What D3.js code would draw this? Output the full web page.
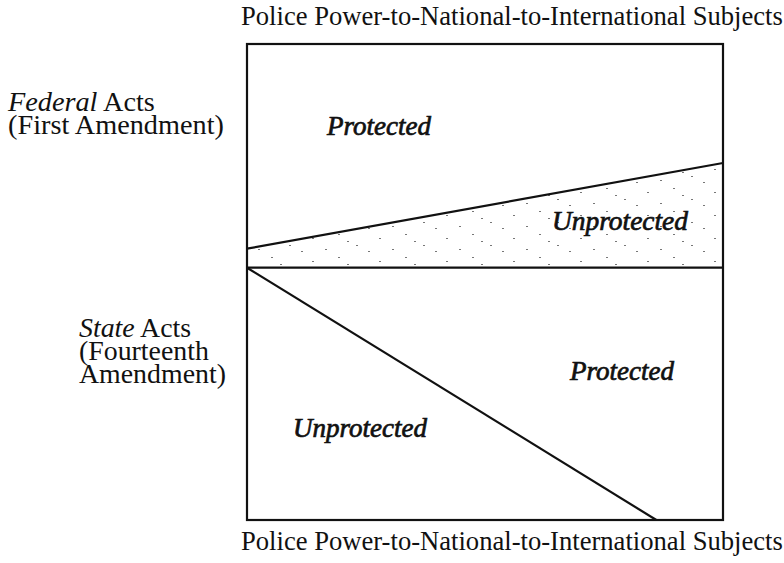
<!DOCTYPE html>
<html>
<head>
<meta charset="utf-8">
<script src="https://cdn.jsdelivr.net/npm/d3@7"></script>
<style>
  html, body { margin: 0; padding: 0; background: #fff; }
  svg text { font-family: 'Liberation Serif', 'Times New Roman', serif; fill: #111; }
</style>
</head>
<body>
<div id="chart"></div>
<script>
// axis captions
const axisTitle = 'Police Power-to-National-to-International Subjects';

// row captions (each line: [italic part, plain part])
const federalCaption = [['Federal', ' Acts'], ['', '(First Amendment)']];
const stateCaption = [['State', ' Acts'], ['', '(Fourteenth'], ['', 'Amendment)']];

// boundary lines, x: subject (0 = police power, 100 = international), y: 0 bottom .. 100 top
const federalLine = [{ x: 0, y: 57 }, { x: 100, y: 75 }];
const divider = [{ x: 0, y: 53 }, { x: 100, y: 53 }];
const stateLine = [{ x: 0, y: 53 }, { x: 86, y: 0 }];

// region names
const regionNames = ['Protected', 'Unprotected', 'Protected', 'Unprotected'];

const options = {
  width: 784,
  height: 563,
  box: { left: 247, right: 723, top: 44, bottom: 520 },
  // where each region name sits (left x, baseline y, width)
  regionSpots: [
    { x: 327, y: 135, w: 104 },
    { x: 552, y: 230, w: 136 },
    { x: 570, y: 380, w: 104 },
    { x: 293, y: 437, w: 134 }
  ]
};

class Diagram {
  constructor(opts) {
    this.options = opts;
    const b = opts.box;
    this.xScale = d3.scaleLinear().domain([0, 100]).range([b.left, b.right]);
    this.yScale = d3.scaleLinear().domain([0, 100]).range([b.bottom, b.top]);
    this.svg = d3.select('#chart').append('svg')
      .attr('width', opts.width)
      .attr('height', opts.height);
    this.line = d3.line().x(d => this.xScale(d.x)).y(d => this.yScale(d.y));
  }
  fitText(sel, width) {
    const w = sel.node().getComputedTextLength();
    const size = parseFloat(sel.attr('font-size'));
    sel.attr('font-size', size * width / w);
    return size * width / w;
  }
  drawStipple() {
    const defs = this.svg.append('defs');
    const pat = defs.append('pattern')
      .attr('id', 'stipple')
      .attr('patternUnits', 'userSpaceOnUse')
      .attr('width', 67).attr('height', 23);
    [[3, 4], [21, 15], [44, 8], [57, 19], [33, 21], [12, 11]].forEach(p => {
      pat.append('rect').attr('x', p[0]).attr('y', p[1])
        .attr('width', 2).attr('height', 1).attr('fill', '#777');
    });
    const area = federalLine.concat(divider.slice().reverse());
    this.svg.append('path')
      .attr('d', this.line(area) + 'Z')
      .attr('fill', 'url(#stipple)');
  }
  drawLines() {
    [federalLine, divider, stateLine].forEach(l => {
      this.svg.append('path')
        .attr('d', this.line(l))
        .attr('fill', 'none')
        .attr('stroke', '#111')
        .attr('stroke-width', 2.2);
    });
    const b = this.options.box;
    this.svg.append('rect')
      .attr('x', b.left).attr('y', b.top)
      .attr('width', b.right - b.left).attr('height', b.bottom - b.top)
      .attr('fill', 'none')
      .attr('stroke', '#111')
      .attr('stroke-width', 2.2);
  }
  drawTitles() {
    const top = this.svg.append('text')
      .attr('x', 241).attr('y', 25)
      .attr('font-size', 24)
      .text(axisTitle);
    const size = this.fitText(top, 542);
    this.svg.append('text')
      .attr('x', 241).attr('y', 550)
      .attr('font-size', size)
      .text(axisTitle);
  }
  // longest line of the block is stretched to the given width
  drawCaption(lines, x, y, width) {
    const texts = lines.map((l, i) => {
      const t = this.svg.append('text')
        .attr('x', x).attr('y', y + i * 23)
        .attr('font-size', 24);
      if (l[0]) t.append('tspan').attr('font-style', 'italic').text(l[0]);
      t.append('tspan').text(l[1]);
      return t;
    });
    const widest = d3.max(texts, t => t.node().getComputedTextLength());
    texts.forEach(t => t.attr('font-size', 24 * width / widest));
  }
  drawRegions() {
    regionNames.forEach((name, i) => {
      const s = this.options.regionSpots[i];
      const t = this.svg.append('text')
        .attr('x', s.x).attr('y', s.y)
        .attr('font-size', 24)
        .attr('font-style', 'italic')
        .attr('stroke', '#111')
        .attr('stroke-width', 0.7)
        .text(name);
      this.fitText(t, s.w);
    });
  }
  draw() {
    this.drawStipple();
    this.drawLines();
    this.drawTitles();
    this.drawCaption(federalCaption, 8, 111, 216);
    this.drawCaption(stateCaption, 79, 337, 147);
    this.drawRegions();
  }
}

new Diagram(options).draw();
</script>
</body>
</html>
